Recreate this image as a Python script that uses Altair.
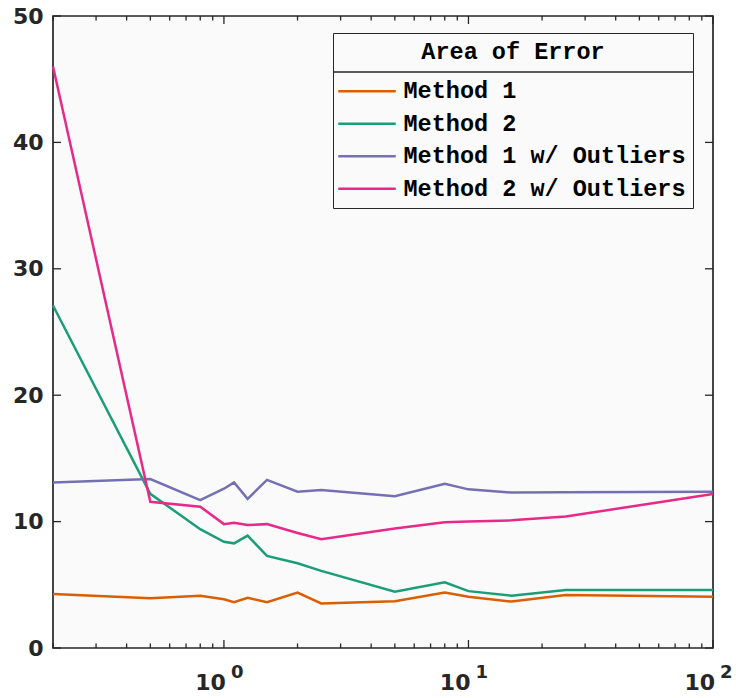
import altair as alt
import pandas as pd

# ---- data ----
x_vals = [0.2, 0.5, 0.8, 1.0, 1.1, 1.25, 1.5, 2, 2.5, 5, 8, 10, 15, 25, 100]
method1 = [4.27, 3.93, 4.14, 3.85, 3.62, 3.98, 3.62, 4.38, 3.53, 3.70, 4.38, 4.06, 3.67, 4.20, 4.06]
method2 = [27.1, 12.2, 9.4, 8.4, 8.28, 8.89, 7.28, 6.7, 6.1, 4.45, 5.2, 4.5, 4.14, 4.59, 4.59]
method1_out = [13.1, 13.37, 11.7, 12.6, 13.1, 11.8, 13.3, 12.37, 12.5, 12.0, 13.0, 12.55, 12.3, 12.33, 12.37]
method2_out = [46.0, 11.57, 11.18, 9.8, 9.9, 9.73, 9.8, 9.1, 8.6, 9.45, 9.94, 10.0, 10.1, 10.4, 12.18]

series_names = ["Method 1", "Method 2", "Method 1 w/ Outliers", "Method 2 w/ Outliers"]
series_colors = ["#D95F02", "#1B9E77", "#7570B3", "#E7298A"]
series_values = [method1, method2, method1_out, method2_out]

y_ticks = [0, 10, 20, 30, 40, 50]
x_major = [1, 10, 100]
x_exponents = ["0", "1", "2"]
x_minor = [0.2, 0.3, 0.4, 0.5, 0.6, 0.7, 0.8, 0.9,
           2, 3, 4, 5, 6, 7, 8, 9,
           20, 30, 40, 50, 60, 70, 80, 90]
legend_title = "Area of Error"

W, H = 660, 632
AX = "#262626"

rows = []
for name, vals in zip(series_names, series_values):
    for xv, yv in zip(x_vals, vals):
        rows.append({"x": xv, "y": yv, "series": name})
df = pd.DataFrame(rows)

xscale = alt.Scale(type="log", domain=[0.2, 100], nice=False)
yscale = alt.Scale(domain=[0, 50], nice=False, zero=False)
yaxis = alt.Axis(values=y_ticks, ticks=False, domain=False, grid=False,
                 labelPadding=10, title=None, labelFont="DejaVu Sans",
                 labelFontWeight="bold", labelFontSize=22, labelColor=AX)

lines = alt.Chart(df).mark_line(strokeWidth=2.5).encode(
    x=alt.X("x:Q", scale=xscale, axis=None),
    y=alt.Y("y:Q", scale=yscale, axis=yaxis),
    color=alt.Color(
        "series:N",
        scale=alt.Scale(domain=series_names, range=series_colors),
        legend=alt.Legend(
            title=legend_title, orient="none", legendX=280, legendY=17,
            symbolType="M-1.35,0H4.4", symbolSize=400, symbolStrokeWidth=2.5,
            labelOffset=40, rowPadding=7.5, titlePadding=16,
            padding=7, strokeColor=AX,
            titleAnchor="middle", labelLimit=500, titleLimit=500,
            labelFont="Liberation Mono", labelFontWeight="bold", labelFontSize=23.5,
            labelColor="black",
            titleFont="Liberation Mono", titleFontWeight="bold", titleFontSize=23.5,
            titleColor="black",
        ),
    ),
)

ydf = pd.DataFrame({"v": y_ticks})
ytick_l = alt.Chart(ydf).mark_rule(color=AX, strokeWidth=1.3).encode(
    y=alt.Y("v:Q", scale=yscale, axis=yaxis), x=alt.value(0), x2=alt.value(8))
ytick_r = alt.Chart(ydf).mark_rule(color=AX, strokeWidth=1.3).encode(
    y=alt.Y("v:Q", scale=yscale, axis=yaxis), x=alt.value(W - 8), x2=alt.value(W))

mdf = pd.DataFrame({"v": x_major, "e": x_exponents})
ndf = pd.DataFrame({"v": x_minor})

def xticks(d, length, top):
    if top:
        yy, yy2 = alt.value(0), alt.value(length)
    else:
        yy, yy2 = alt.value(H), alt.value(H - length)
    return alt.Chart(d).mark_rule(color=AX, strokeWidth=1.3).encode(
        x=alt.X("v:Q", scale=xscale, axis=None), y=yy, y2=yy2)

xlab = alt.Chart(mdf).mark_text(
    align="right", baseline="middle", dx=2, font="DejaVu Sans",
    fontWeight="bold", fontSize=22, color=AX).encode(
    x=alt.X("v:Q", scale=xscale, axis=None), y=alt.value(H + 35), text=alt.value("10"))
xsup = alt.Chart(mdf).mark_text(
    align="left", baseline="middle", dx=7, font="DejaVu Sans",
    fontWeight="bold", fontSize=18, color=AX).encode(
    x=alt.X("v:Q", scale=xscale, axis=None), y=alt.value(H + 25), text="e:N")

sep = alt.Chart(pd.DataFrame({"a": [0]})).mark_rule(color=AX, strokeWidth=1.3).encode(
    x=alt.value(280), x2=alt.value(640), y=alt.value(56))

chart = alt.layer(
    lines, ytick_l, ytick_r,
    xticks(mdf, 8, False), xticks(mdf, 8, True),
    xticks(ndf, 4.5, False), xticks(ndf, 4.5, True),
    xlab, xsup, sep,
).properties(
    width=W, height=H,
    autosize=alt.AutoSizeParams(type="none"),
    padding={"left": 53, "top": 16, "right": 23, "bottom": 50},
    background="white",
).configure_view(
    stroke=AX, strokeWidth=1.7, fill="#fafafa"
)

chart.save("out.html", embed_options={"renderer": "svg", "actions": False})
